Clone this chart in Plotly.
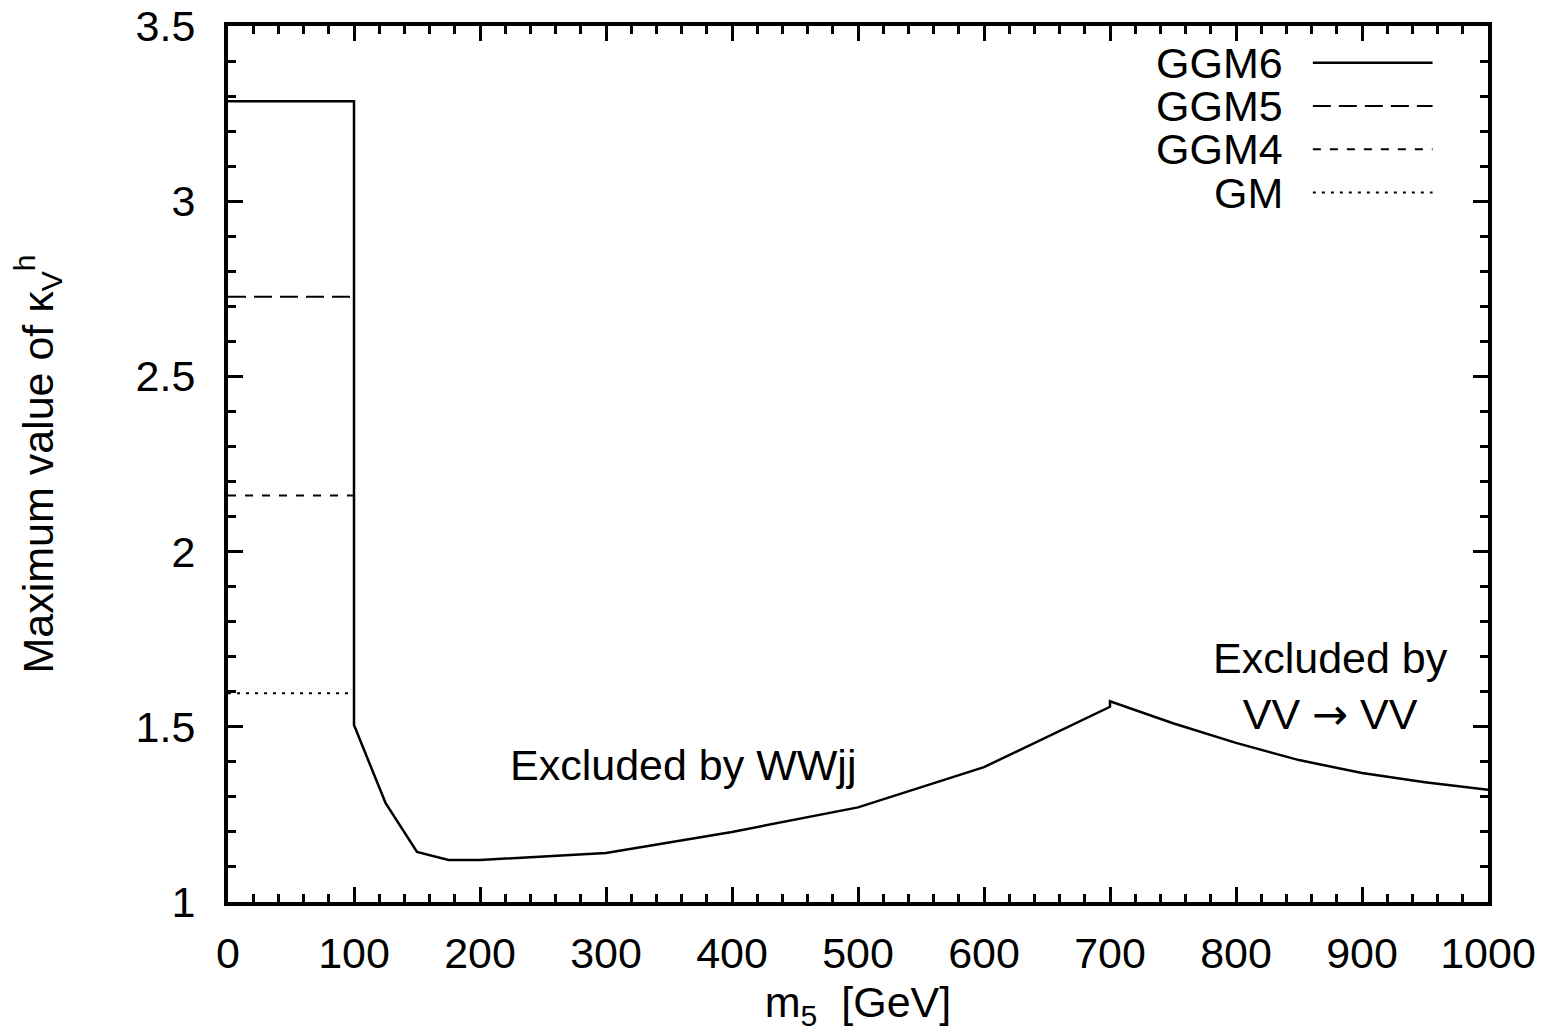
import plotly.graph_objects as go

# ---- data ----
m5_ggm6 = [0, 100, 100, 125, 150, 175, 200, 300, 400, 500, 600, 700, 700, 750, 800, 850, 900, 950, 1000]
kv_ggm6 = [3.285, 3.285, 1.505, 1.283, 1.143, 1.12, 1.12, 1.14, 1.20, 1.27, 1.385, 1.557, 1.573, 1.51, 1.454, 1.405, 1.368, 1.342, 1.32]

m5_low = [0, 100, 100]
kv_ggm5 = [2.727, 2.727, 1.505]
kv_ggm4 = [2.16, 2.16, 1.505]
kv_gm = [1.596, 1.596, 1.505]

series_names = ["GGM6", "GGM5", "GGM4", "GM"]
series_dash = ["solid", "18px,8px", "8px,9px", "3px,6px"]

x_ticks = [0, 100, 200, 300, 400, 500, 600, 700, 800, 900, 1000]
y_ticks = [1, 1.5, 2, 2.5, 3, 3.5]
y_ticklabels = ["1", "1.5", "2", "2.5", "3", "3.5"]

FONT = "Liberation Sans, Arial, Helvetica, sans-serif"
FS = 43

fig = go.Figure()
fig.add_trace(go.Scatter(x=m5_ggm6, y=kv_ggm6, mode="lines",
                         line=dict(color="black", width=2.5, dash=series_dash[0]),
                         name=series_names[0], showlegend=False))
for name, ys, dash in zip(series_names[1:], [kv_ggm5, kv_ggm4, kv_gm], series_dash[1:]):
    fig.add_trace(go.Scatter(x=m5_low, y=ys, mode="lines",
                             line=dict(color="black", width=2, dash=dash),
                             name=name, showlegend=False))

# manual legend (text left of line sample, gnuplot style)
leg_y0 = 0.958
leg_dy = 0.0494
for i, (name, dash) in enumerate(zip(series_names, series_dash)):
    yy = leg_y0 - i * leg_dy
    fig.add_annotation(xref="paper", yref="paper", x=0.839, y=yy, text=name,
                       showarrow=False, xanchor="right", yanchor="middle",
                       font=dict(family=FONT, size=FS, color="black"))
    fig.add_shape(type="line", xref="paper", yref="paper",
                  x0=0.861, x1=0.956, y0=yy, y1=yy,
                  line=dict(color="black", width=2.5 if i == 0 else 2, dash=dash))

fig.add_annotation(x=361, y=1.391, text="Excluded by WWjj", showarrow=False,
                   font=dict(family=FONT, size=FS, color="black"))
fig.add_annotation(x=875, y=1.616,
                   text="Excluded by<br>VV <span style=\"font-family:'DejaVu Sans'\">→</span> VV",
                   showarrow=False, align="center",
                   font=dict(family=FONT, size=FS, color="black"))

axis_common = dict(
    showline=True, linecolor="black", linewidth=4, mirror="ticks",
    ticks="inside", ticklen=15, tickwidth=3, tickcolor="black",
    showgrid=False, zeroline=False, ticklabeloverflow="allow", automargin=False,
    tickfont=dict(family=FONT, size=FS, color="black"),
)

fig.update_xaxes(range=[0, 1000], tickvals=x_ticks, ticklabelstandoff=10,
                 minor=dict(ticks="inside", dtick=20, ticklen=8, tickwidth=3, tickcolor="black", showgrid=False),
                 title=dict(text="m<sub>5</sub>  [GeV]", font=dict(family=FONT, size=FS, color="black"), standoff=12),
                 **axis_common)
fig.update_yaxes(range=[1, 3.5], tickvals=y_ticks, ticktext=y_ticklabels, ticklabelstandoff=20,
                 minor=dict(ticks="inside", dtick=0.1, ticklen=8, tickwidth=3, tickcolor="black", showgrid=False),
                 title=dict(text="Maximum value of κ<sub>V</sub><sup>h</sup>", font=dict(family=FONT, size=FS, color="black"), standoff=70),
                 **axis_common)

fig.update_layout(
    width=1546, height=1036,
    margin=dict(l=220, r=66, t=18, b=142),
    plot_bgcolor="white", paper_bgcolor="white",
    showlegend=False,
)

fig.write_html("out.html")
